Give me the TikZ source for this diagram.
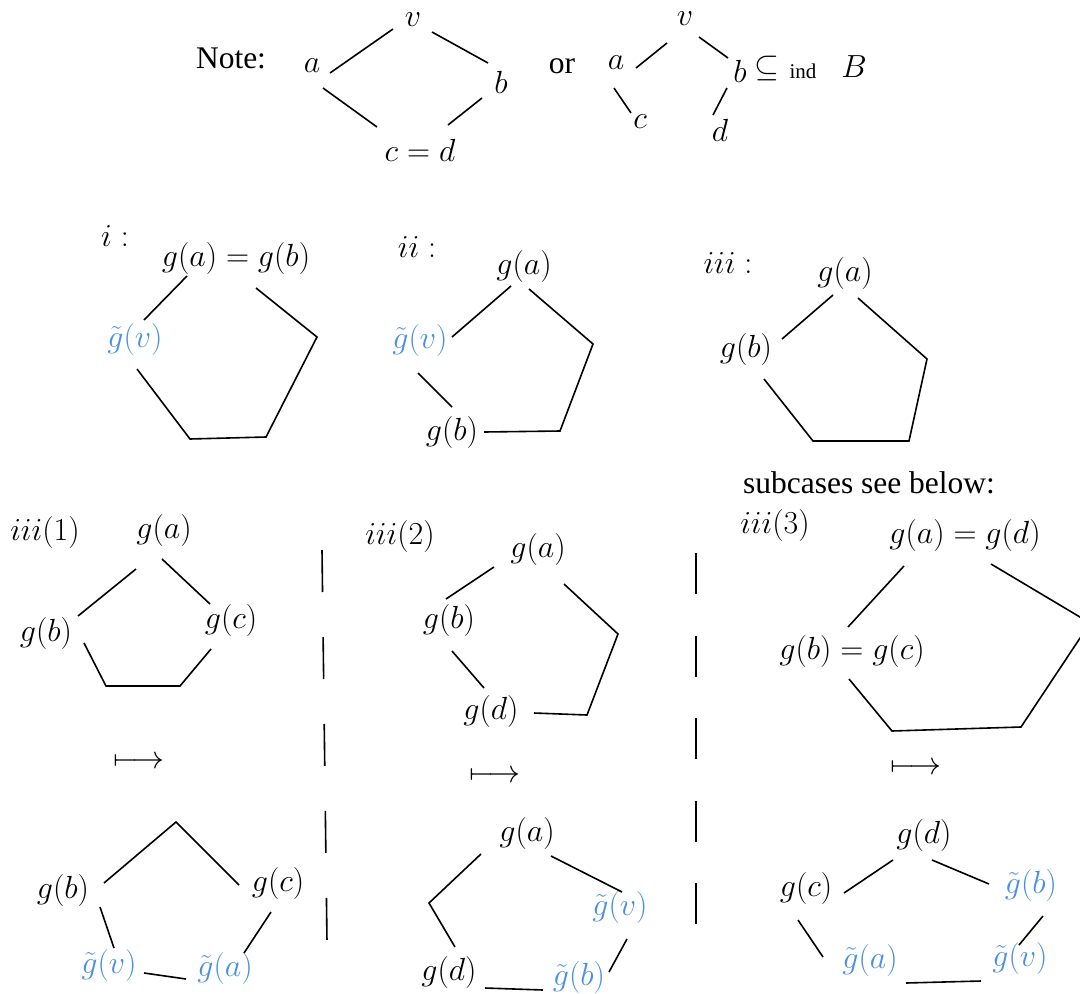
\RequirePackage{fix-cm}
\documentclass[tikz,border=0pt]{standalone}
\usepackage{fontspec}
\setmainfont{Liberation Serif}
\definecolor{gblue}{RGB}{74,144,226}
\tikzset{
  lbl/.style={inner sep=0pt, font=\fontsize{32}{38}\selectfont},
  bl/.style={lbl, text=gblue},
  txt/.style={inner sep=0pt, font=\fontsize{31.5}{38}\selectfont},
  small/.style={inner sep=0pt, font=\fontsize{21}{25}\selectfont},
  edge/.style={line width=1.6pt},
  dashline/.style={line width=1.6pt, dash pattern=on 42pt off 45pt},
  dashlineb/.style={line width=1.6pt, dash pattern=on 41pt off 41.5pt}
}
\begin{document}
\begin{tikzpicture}[x=1pt,y=-1pt]
\clip (0,0) rectangle (1080,994);
% ---------- Note ----------
\node[txt] (note) at (231,58) {Note:};
\node[lbl] (na) at (312,66) {$a$};
\node[lbl] (nv) at (413,20) {$v$};
\node[lbl] (nb) at (501,82) {$b$};
\node[lbl] (ncd) at (420,150) {$c=d$};
\coordinate (p1) at (330,73); \coordinate (p2) at (393,29);
\coordinate (p3) at (432,32); \coordinate (p4) at (488,63);
\coordinate (p5) at (323,88); \coordinate (p6) at (377,127);
\coordinate (p7) at (482,98); \coordinate (p8) at (448,125);
\draw[edge] (p1) -- (p2); \draw[edge] (p3) -- (p4);
\draw[edge] (p5) -- (p6); \draw[edge] (p7) -- (p8);
\node[txt] (or) at (562,66) {or};
\node[lbl] (ov) at (685,19) {$v$};
\node[lbl] (oa) at (616,63) {$a$};
\node[lbl] (ob) at (740,71) {$b$};
\node[lbl] (osub) at (767,68) {$\subseteq$};
\node[small] (oind) at (803,71) {ind};
\node[lbl] (oB) at (854,67) {$B$};
\node[lbl] (oc) at (640,122) {$c$};
\node[lbl] (od) at (720,130) {$d$};
\coordinate (q1) at (636,68); \coordinate (q2) at (667,43);
\coordinate (q3) at (699,37); \coordinate (q4) at (728,58);
\coordinate (q5) at (614,88); \coordinate (q6) at (631,113);
\coordinate (q7) at (727,88); \coordinate (q8) at (713,115);
\draw[edge] (q1) -- (q2); \draw[edge] (q3) -- (q4);
\draw[edge] (q5) -- (q6); \draw[edge] (q7) -- (q8);
% ---------- i ----------
\node[lbl] (ilab) at (115,236) {$i:$};
\node[lbl] (iab) at (236,258) {$g(a)=g(b)$};
\node[bl] (iv) at (135,339) {$\tilde g(v)$};
\coordinate (i1) at (187,276); \coordinate (i2) at (144,320);
\coordinate (i3) at (256,288); \coordinate (i4) at (317,337);
\coordinate (i5) at (266,437); \coordinate (i6) at (190,439);
\coordinate (i7) at (137,369);
\draw[edge] (i1) -- (i2);
\draw[edge] (i3) -- (i4) -- (i5) -- (i6) -- (i7);
% ---------- ii ----------
\node[lbl] (iilab) at (417,247) {$ii:$};
\node[lbl] (iia) at (524,266) {$g(a)$};
\node[bl] (iiv) at (420,340) {$\tilde g(v)$};
\node[lbl] (iib) at (452,432) {$g(b)$};
\coordinate (j1) at (511,286); \coordinate (j2) at (452,337);
\coordinate (j3) at (529,289); \coordinate (j4) at (593,344);
\coordinate (j5) at (560,431); \coordinate (j6) at (484,432);
\coordinate (j7) at (418,373); \coordinate (j8) at (452,407);
\draw[edge] (j1) -- (j2);
\draw[edge] (j3) -- (j4) -- (j5) -- (j6);
\draw[edge] (j7) -- (j8);
% ---------- iii ----------
\node[lbl] (iiilab) at (728,263) {$iii:$};
\node[lbl] (iiia) at (845,273) {$g(a)$};
\node[lbl] (iiib) at (746,349) {$g(b)$};
\coordinate (k1) at (833,295); \coordinate (k2) at (782,339);
\coordinate (k3) at (858,298); \coordinate (k4) at (927,359);
\coordinate (k5) at (909,441); \coordinate (k6) at (813,441);
\coordinate (k7) at (764,379);
\draw[edge] (k1) -- (k2);
\draw[edge] (k3) -- (k4) -- (k5) -- (k6) -- (k7);
\node[txt] (subc) at (869,483) {subcases see below:};
% ---------- iii(1) ----------
\node[lbl] (l1) at (45,532) {$iii(1)$};
\node[lbl] (l1a) at (164,530) {$g(a)$};
\node[lbl] (l1b) at (46,633) {$g(b)$};
\node[lbl] (l1c) at (231,620) {$g(c)$};
\coordinate (m1) at (136,569); \coordinate (m2) at (78,616);
\coordinate (m3) at (162,559); \coordinate (m4) at (210,604);
\coordinate (m5) at (84,643); \coordinate (m6) at (106,686);
\coordinate (m7) at (180,686); \coordinate (m8) at (211,649);
\draw[edge] (m1) -- (m2); \draw[edge] (m3) -- (m4);
\draw[edge] (m5) -- (m6) -- (m7) -- (m8);
\node[lbl] (map1) at (139,763) {$\longmapsto$};
\node[lbl] (r1b) at (63,890) {$g(b)$};
\node[lbl] (r1c) at (278,883) {$g(c)$};
\node[bl] (r1v) at (109,965) {$\tilde g(v)$};
\node[bl] (r1a) at (225,968) {$\tilde g(a)$};
\coordinate (s1) at (104,883); \coordinate (s2) at (176,822);
\coordinate (s3) at (239,885);
\coordinate (s4) at (100,907); \coordinate (s5) at (114,948);
\coordinate (s6) at (144,973); \coordinate (s7) at (186,979);
\coordinate (s8) at (271,912); \coordinate (s9) at (244,953);
\draw[edge] (s1) -- (s2) -- (s3);
\draw[edge] (s4) -- (s5); \draw[edge] (s6) -- (s7); \draw[edge] (s8) -- (s9);
% separators
\coordinate (d1) at (322,550); \coordinate (d2) at (327,942);
\draw[dashline] (d1) -- (d2);
\coordinate (d3) at (696,553); \coordinate (d4) at (696,925);
\draw[dashlineb] (d3) -- (d4);
% ---------- iii(2) ----------
\node[lbl] (l2) at (400,536) {$iii(2)$};
\node[lbl] (l2a) at (538,549) {$g(a)$};
\node[lbl] (l2b) at (449,620) {$g(b)$};
\node[lbl] (l2d) at (491,711) {$g(d)$};
\coordinate (t1) at (494,567); \coordinate (t2) at (446,599);
\coordinate (t3) at (564,584); \coordinate (t4) at (618,634);
\coordinate (t5) at (587,715); \coordinate (t6) at (534,713);
\coordinate (t7) at (452,651); \coordinate (t8) at (484,688);
\draw[edge] (t1) -- (t2);
\draw[edge] (t3) -- (t4) -- (t5) -- (t6);
\draw[edge] (t7) -- (t8);
\node[lbl] (map2) at (495,777) {$\longmapsto$};
\node[lbl] (r2a) at (527,833) {$g(a)$};
\node[bl] (r2v) at (620,907) {$\tilde g(v)$};
\node[lbl] (r2d) at (449,972) {$g(d)$};
\node[bl] (r2b) at (579,977) {$\tilde g(b)$};
\coordinate (u1) at (481,854); \coordinate (u2) at (429,903);
\coordinate (u3) at (455,947);
\coordinate (u4) at (551,856); \coordinate (u5) at (622,892);
\coordinate (u6) at (627,939); \coordinate (u7) at (609,972);
\coordinate (u8) at (485,988); \coordinate (u9) at (543,990);
\draw[edge] (u1) -- (u2) -- (u3);
\draw[edge] (u4) -- (u5); \draw[edge] (u6) -- (u7); \draw[edge] (u8) -- (u9);
% ---------- iii(3) ----------
\node[lbl] (l3) at (775,525) {$iii(3)$};
\node[lbl] (l3ad) at (965,535) {$g(a)=g(d)$};
\node[lbl] (l3bc) at (852,651) {$g(b)=g(c)$};
\coordinate (w1) at (904,566); \coordinate (w2) at (848,627);
\coordinate (w3) at (991,564); \coordinate (w4) at (1090,623);
\coordinate (w5) at (1021,727); \coordinate (w6) at (892,731);
\coordinate (w7) at (849,679);
\draw[edge] (w1) -- (w2);
\draw[edge] (w3) -- (w4) -- (w5) -- (w6) -- (w7);
\node[lbl] (map3) at (916,769) {$\longmapsto$};
\node[lbl] (r3d) at (924,835) {$g(d)$};
\node[lbl] (r3c) at (806,888) {$g(c)$};
\node[bl] (r3b) at (1031,885) {$\tilde g(b)$};
\node[bl] (r3a) at (870,960) {$\tilde g(a)$};
\node[bl] (r3v) at (1020,958) {$\tilde g(v)$};
\coordinate (z1) at (893,860); \coordinate (z2) at (844,893);
\coordinate (z3) at (932,860); \coordinate (z4) at (989,884);
\coordinate (z5) at (798,920); \coordinate (z6) at (823,957);
\coordinate (z7) at (906,983); \coordinate (z8) at (981,981);
\coordinate (z9) at (1043,916); \coordinate (z10) at (1019,945);
\draw[edge] (z1) -- (z2); \draw[edge] (z3) -- (z4);
\draw[edge] (z5) -- (z6); \draw[edge] (z7) -- (z8); \draw[edge] (z9) -- (z10);
\end{tikzpicture}
\end{document}
